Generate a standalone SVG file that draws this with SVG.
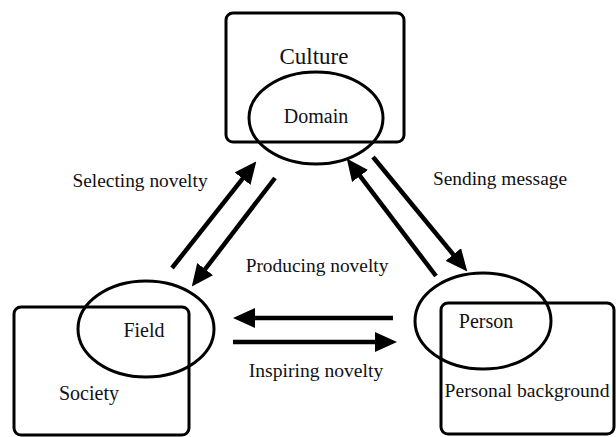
<svg xmlns="http://www.w3.org/2000/svg" width="616" height="437" viewBox="0 0 616 437">
<style>
.box{fill:none;stroke:#000;stroke-width:3}
.ell{fill:none;stroke:#000;stroke-width:3}
.t{font-family:"Liberation Serif","Times New Roman",serif;fill:#111;text-anchor:middle}
.arr{stroke:#000;stroke-width:4.5;fill:none;marker-end:url(#ah)}
</style>
<defs>
<marker id="ah" markerUnits="userSpaceOnUse" markerWidth="22" markerHeight="20" viewBox="0 0 22 20" refX="8" refY="10" orient="auto">
<path d="M0,0 L22,10 L0,20 z" fill="#000"/>
</marker>
</defs>
<rect width="616" height="437" fill="#fff"/>
<g id="culture">
<rect class="box" x="226" y="13" width="178" height="129" rx="7"/>
<ellipse class="ell" cx="316" cy="118" rx="67" ry="46"/>
<text class="t" x="314" y="64" font-size="23">Culture</text>
<text class="t" x="316" y="123" font-size="20">Domain</text>
</g>
<g id="society">
<rect class="box" x="14" y="307" width="175" height="128" rx="7"/>
<ellipse class="ell" cx="146" cy="329" rx="68" ry="48"/>
<text class="t" x="144" y="337" font-size="20">Field</text>
<text class="t" x="89" y="400" font-size="20">Society</text>
</g>
<g id="person">
<rect class="box" x="441" y="303" width="173" height="131" rx="7"/>
<ellipse class="ell" cx="483" cy="321" rx="68" ry="48"/>
<text class="t" x="486" y="328" font-size="20">Person</text>
<text class="t" x="527" y="397" font-size="19.6">Personal background</text>
</g>
<g id="connectors">
<line class="arr" x1="172" y1="268" x2="247.6" y2="172.4"/>
<line class="arr" x1="275" y1="178" x2="200.3" y2="275.5"/>
<line class="arr" x1="373" y1="157" x2="458.4" y2="260.7"/>
<line class="arr" x1="436" y1="276" x2="355.2" y2="169.6"/>
<line class="arr" x1="393" y1="318" x2="247" y2="318"/>
<line class="arr" x1="233" y1="342" x2="383" y2="342"/>
</g>
<g id="labels">
<text class="t" x="140" y="187" font-size="19.4">Selecting novelty</text>
<text class="t" x="500" y="185" font-size="19.4">Sending message</text>
<text class="t" x="317" y="272" font-size="19.4">Producing novelty</text>
<text class="t" x="316" y="377" font-size="19.6">Inspiring novelty</text>
</g>
</svg>
